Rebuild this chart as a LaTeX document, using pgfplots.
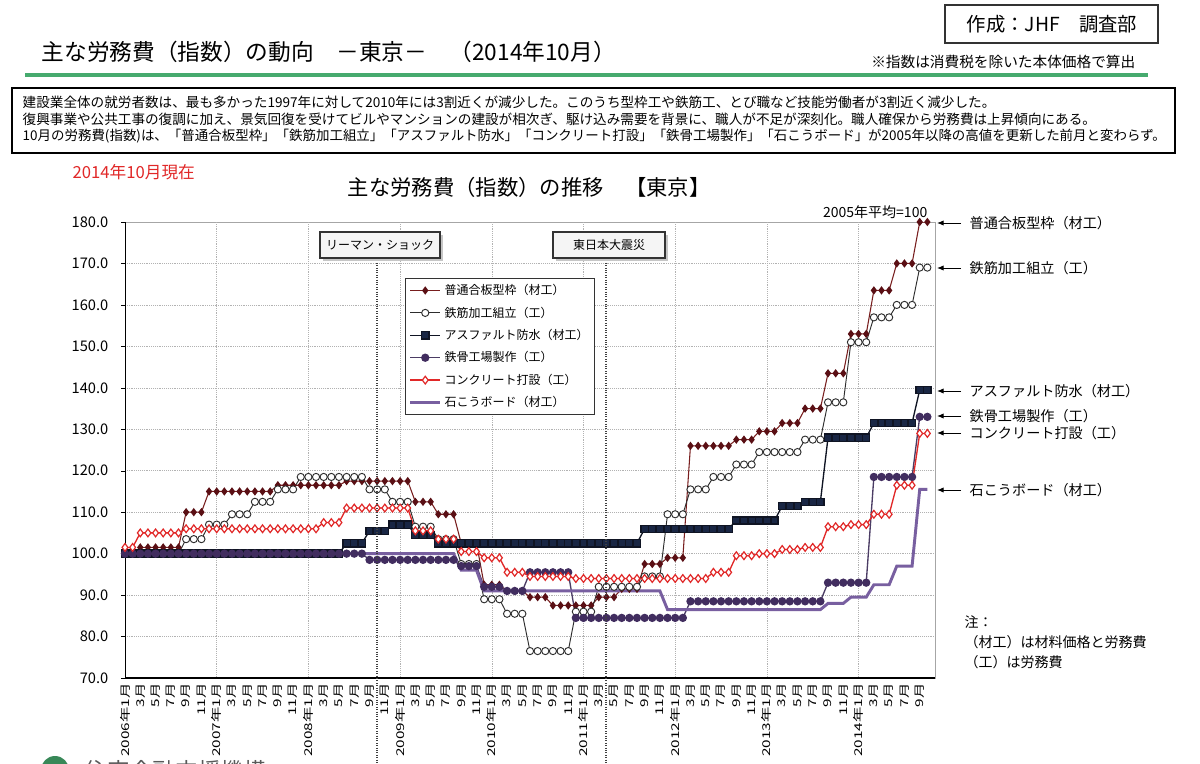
\documentclass[border=0pt]{standalone}
\usepackage{fontspec}
\setmainfont{Noto Sans CJK JP}
\usepackage{pgfplots}
\pgfplotsset{compat=1.18}
\usepackage{pgfplotstable}
\usetikzlibrary{arrows.meta}
\newcommand{\fs}[1]{\fontsize{#1}{#1}\selectfont}
\definecolor{cA}{RGB}{120,30,30}
\definecolor{cAm}{RGB}{90,15,20}
\definecolor{cB}{RGB}{45,45,45}
\definecolor{cC}{RGB}{15,20,35}
\definecolor{cCm}{RGB}{25,38,68}
\definecolor{cD}{RGB}{75,60,100}
\definecolor{cDm}{RGB}{65,45,95}
\definecolor{cE}{RGB}{225,40,40}
\definecolor{cF}{RGB}{120,95,160}
\definecolor{gline}{RGB}{70,170,110}
\definecolor{txtred}{RGB}{225,40,40}
\pgfplotstableread{
i A B C D E F
0 100 100 100 100 101.5 100
1 100 100 100 100 101.5 100
2 101.5 100 100 100 105 100
3 101.5 100 100 100 105 100
4 101.5 100 100 100 105 100
5 101.5 100 100 100 105 100
6 101.5 100 100 100 105 100
7 101.5 100 100 100 105 100
8 110 103.5 100 100 106 100
9 110 103.5 100 100 106 100
10 110 103.5 100 100 106 100
11 115 107 100 100 106 100
12 115 107 100 100 106 100
13 115 107 100 100 106 100
14 115 109.5 100 100 106 100
15 115 109.5 100 100 106 100
16 115 109.5 100 100 106 100
17 115 112.5 100 100 106 100
18 115 112.5 100 100 106 100
19 115 112.5 100 100 106 100
20 116.5 115.5 100 100 106 100
21 116.5 115.5 100 100 106 100
22 116.5 115.5 100 100 106 100
23 116.5 118.5 100 100 106 100
24 116.5 118.5 100 100 106 100
25 116.5 118.5 100 100 106 100
26 116.5 118.5 100 100 107.5 100
27 116.5 118.5 100 100 107.5 100
28 116.5 118.5 100 100 107.5 100
29 117.5 118.5 102.5 100 111 100
30 117.5 118.5 102.5 100 111 100
31 117.5 118.5 102.5 100 111 100
32 117.5 115.5 105.5 98.5 111 100
33 117.5 115.5 105.5 98.5 111 100
34 117.5 115.5 105.5 98.5 111 100
35 117.5 112.5 107 98.5 111 100
36 117.5 112.5 107 98.5 111 100
37 117.5 112.5 107 98.5 111 100
38 112.5 106.5 104.5 98.5 105.5 100
39 112.5 106.5 104.5 98.5 105.5 100
40 112.5 106.5 104.5 98.5 105.5 100
41 109.5 103.5 102.5 98.5 103.5 100
42 109.5 103.5 102.5 98.5 103.5 100
43 109.5 103.5 102.5 98.5 103.5 100
44 102.5 97.5 102.5 97 100.5 96
45 102.5 97.5 102.5 97 100.5 96
46 102.5 97.5 102.5 97 100.5 96
47 92.5 89 102.5 92 99 91
48 92.5 89 102.5 92 99 91
49 92.5 89 102.5 92 99 91
50 91 85.5 102.5 91 95.5 91
51 91 85.5 102.5 91 95.5 91
52 91 85.5 102.5 91 95.5 91
53 89.5 76.5 102.5 95.5 94.5 91
54 89.5 76.5 102.5 95.5 94.5 91
55 89.5 76.5 102.5 95.5 94.5 91
56 87.5 76.5 102.5 95.5 94.5 91
57 87.5 76.5 102.5 95.5 94.5 91
58 87.5 76.5 102.5 95.5 94.5 91
59 87.5 86 102.5 84.5 94 91
60 87.5 86 102.5 84.5 94 91
61 87.5 86 102.5 84.5 94 91
62 89.5 92 102.5 84.5 94 91
63 89.5 92 102.5 84.5 94 91
64 89.5 92 102.5 84.5 94 91
65 91.5 92 102.5 84.5 94 91
66 91.5 92 102.5 84.5 94 91
67 91.5 92 102.5 84.5 94 91
68 97.5 94.5 106 84.5 94 91
69 97.5 94.5 106 84.5 94 91
70 97.5 94.5 106 84.5 94 91
71 99 109.5 106 84.5 94 86.5
72 99 109.5 106 84.5 94 86.5
73 99 109.5 106 84.5 94 86.5
74 126 115.5 106 88.5 94 86.5
75 126 115.5 106 88.5 94 86.5
76 126 115.5 106 88.5 94 86.5
77 126 118.5 106 88.5 95.5 86.5
78 126 118.5 106 88.5 95.5 86.5
79 126 118.5 106 88.5 95.5 86.5
80 127.5 121.5 108 88.5 99.5 86.5
81 127.5 121.5 108 88.5 99.5 86.5
82 127.5 121.5 108 88.5 99.5 86.5
83 129.5 124.5 108 88.5 100 86.5
84 129.5 124.5 108 88.5 100 86.5
85 129.5 124.5 108 88.5 100 86.5
86 131.5 124.5 111.5 88.5 101 86.5
87 131.5 124.5 111.5 88.5 101 86.5
88 131.5 124.5 111.5 88.5 101 86.5
89 135 127.5 112.5 88.5 101.5 86.5
90 135 127.5 112.5 88.5 101.5 86.5
91 135 127.5 112.5 88.5 101.5 86.5
92 143.5 136.5 128 93 106.5 88
93 143.5 136.5 128 93 106.5 88
94 143.5 136.5 128 93 106.5 88
95 153 151 128 93 107 89.5
96 153 151 128 93 107 89.5
97 153 151 128 93 107 89.5
98 163.5 157 131.5 118.5 109.5 92.5
99 163.5 157 131.5 118.5 109.5 92.5
100 163.5 157 131.5 118.5 109.5 92.5
101 170 160 131.5 118.5 116.5 97
102 170 160 131.5 118.5 116.5 97
103 170 160 131.5 118.5 116.5 97
104 180 169 139.5 133 129 115.5
105 180 169 139.5 133 129 115.5
}\data
\begin{document}
\begin{tikzpicture}
\fill[white] (0pt,0pt) rectangle (900pt,-573pt);
\path[use as bounding box] (0pt,0pt) rectangle (900pt,-573pt);
\begin{axis}[
  at={(93.75pt,-166.5pt)}, anchor=north west,
  width=607.5pt, height=342pt, scale only axis,
  xmin=0, xmax=106, ymin=70, ymax=180,
  axis line style={draw=gray!70},
  ytick={70,80,...,180},
  ymajorgrids, grid style={densely dotted, gray!60},
  ytick pos=left, xtick pos=left,
  tick align=outside, major tick length=3pt,
  ytick style={draw=black},
  /pgf/number format/assume math mode=true,
  yticklabel style={font=\fs{11}, xshift=-6pt, /pgf/number format/fixed, /pgf/number format/fixed zerofill, /pgf/number format/precision=1, /pgf/number format/assume math mode=true},
  xtick={0,2,...,104},
  xtick style={draw=none},
  xticklabels={2006年1月,3月,5月,7月,9月,11月,2007年1月,3月,5月,7月,9月,11月,2008年1月,3月,5月,7月,9月,11月,2009年1月,3月,5月,7月,9月,11月,2010年1月,3月,5月,7月,9月,11月,2011年1月,3月,5月,7月,9月,11月,2012年1月,3月,5月,7月,9月,11月,2013年1月,3月,5月,7月,9月,11月,2014年1月,3月,5月,7月,9月},
  xticklabel style={rotate=90, anchor=east, font=\fs{11.5}, yscale=0.7, inner sep=1pt},
  extra x ticks={12,24,...,96},
  extra x tick labels={},
  extra x tick style={grid=major, tick style={draw=none}},
  legend style={at={(0.3457,0.877)}, anchor=north west, draw=black!80, fill=white, font=\fs{9}, row sep=3.6pt, inner sep=2.5pt},
  legend cell align=left,
  legend image code/.code={\draw[mark repeat=2,mark phase=2,#1] plot coordinates {(0cm,0cm) (0.4cm,0cm) (0.8cm,0cm)};},
]
\addplot[cA, line width=0.8pt, mark=diamond*, mark size=2.5pt, mark options={fill=cAm, draw=cAm}] table[x=i,y=A]{\data};
\addlegendentry{普通合板型枠（材工）}
\addplot[cB, line width=0.7pt, mark=*, mark size=2.7pt, mark options={fill=white, draw=cB}] table[x=i,y=B]{\data};
\addlegendentry{鉄筋加工組立（工）}
\addplot[cC, line width=1pt, mark=square*, mark size=2.7pt, mark options={fill=cCm, draw=cC}] table[x=i,y=C]{\data};
\addlegendentry{アスファルト防水（材工）}
\addplot[cD, line width=1pt, mark=*, mark size=2.6pt, mark options={fill=cDm, draw=cDm}] table[x=i,y=D]{\data};
\addlegendentry{鉄骨工場製作（工）}
\addplot[cE, line width=1pt, mark=diamond*, mark size=2.9pt, mark options={fill=white, draw=cE, line width=0.9pt}] table[x=i,y=E]{\data};
\addlegendentry{コンクリート打設（工）}
\addplot[cF, line width=2.2pt, no marks] table[x=i,y=F]{\data};
\addlegendentry{石こうボード（材工）}
\draw[black, line width=0.9pt] (rel axis cs:0,1) -- (rel axis cs:0,0) -- (rel axis cs:1,0);
\end{axis}
\begin{scope}[x=0.75pt,y=-0.75pt]
\draw[black!80, line width=0.8pt] (945,5) rectangle (1158,43);
\node[font=\fs{14.5}] at (1052,24) {作成：JHF　調査部};
\node[anchor=west, font=\fs{17}] at (37,52) {主な労務費（指数）の動向　－東京－　（2014年10月）};
\node[anchor=east, font=\fs{11}] at (1140,62) {※指数は消費税を除いた本体価格で算出};
\draw[gline, line width=2.5pt] (25,75) -- (1148,75);
\draw[black, line width=0.8pt] (12,88) rectangle (1175,153);
\node[anchor=west, font=\fs{10.2}] at (18,102) {建設業全体の就労者数は、最も多かった1997年に対して2010年には3割近くが減少した。このうち型枠工や鉄筋工、とび職など技能労働者が3割近く減少した。};
\node[anchor=west, font=\fs{10.2}] at (18,119) {復興事業や公共工事の復調に加え、景気回復を受けてビルやマンションの建設が相次ぎ、駆け込み需要を背景に、職人が不足が深刻化。職人確保から労務費は上昇傾向にある。};
\node[anchor=west, font=\fs{10.1}] at (18,136) {10月の労務費(指数)は、「普通合板型枠」「鉄筋加工組立」「アスファルト防水」「コンクリート打設」「鉄骨工場製作」「石こうボード」が2005年以降の高値を更新した前月と変わらず。};
\node[anchor=west, text=txtred, font=\fs{12.5}] at (68,172) {2014年10月現在};
\node[font=\fs{16}] at (529,187) {主な労務費（指数）の推移　【東京】};
\node[anchor=east, font=\fs{10.5}] at (932,212) {2005年平均=100};
% event markers
\draw[black!75, densely dotted, line width=0.8pt] (377,258) -- (377,764);
\draw[black!75, densely dotted, line width=0.8pt] (606,258) -- (606,764);
\fill[gray!45] (323,235) rectangle (443,261);
\draw[black!80, fill=gray!8, line width=0.8pt] (320,232) rectangle (440,258);
\node[font=\fs{9}] at (380,245) {リーマン・ショック};
\fill[gray!45] (556,235) rectangle (668,261);
\draw[black!80, fill=gray!8, line width=0.8pt] (553,232) rectangle (665,258);
\node[font=\fs{9}] at (609,245) {東日本大震災};
% right labels
\foreach \yy/\lab in {223/普通合板型枠（材工）, 268/鉄筋加工組立（工）, 391/アスファルト防水（材工）, 416/鉄骨工場製作（工）, 433/コンクリート打設（工）, 490/石こうボード（材工）}{
  \draw[black, line width=0.7pt, -{Latex[length=5pt,width=4pt]}] (961,\yy) -- (937,\yy);
  \node[anchor=west, font=\fs{10.6}] at (965,\yy) {\lab};
}
\node[anchor=west, font=\fs{10.5}] at (960,622) {注：};
\node[anchor=west, font=\fs{10.5}] at (960,642) {（材工）は材料価格と労務費};
\node[anchor=west, font=\fs{10.5}] at (960,662) {（工）は労務費};
% bottom logo (cut off as in the source)
\fill[gline!80!black] (55,770) circle (14);
\node[anchor=west, text=black!65, font=\fs{17}] at (80,771) {住宅金融支援機構};
\end{scope}
\end{tikzpicture}
\end{document}
